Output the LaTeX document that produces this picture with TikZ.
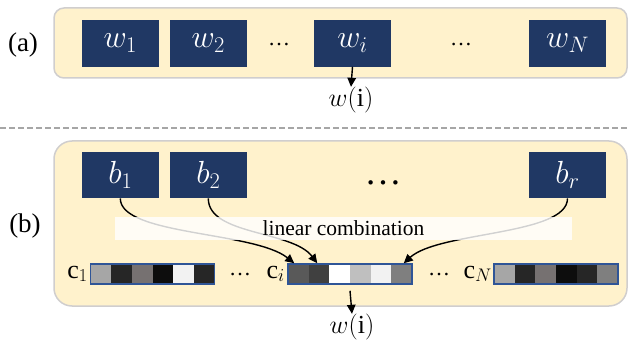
\RequirePackage{fix-cm}
\documentclass[tikz,border=0pt]{standalone}
\usepackage{fontspec}
\setmainfont{Liberation Serif}
\usetikzlibrary{arrows.meta,calc}
\definecolor{panelfill}{HTML}{FFF2CC}
\definecolor{panelline}{HTML}{D0CECE}
\definecolor{navy}{HTML}{203864}
\definecolor{barline}{HTML}{2F5597}
\definecolor{dashgray}{HTML}{A6A6A6}
\definecolor{kA}{HTML}{A6A6A6}
\definecolor{kB}{HTML}{262626}
\definecolor{kC}{HTML}{767171}
\definecolor{kD}{HTML}{0D0D0D}
\definecolor{kE}{HTML}{F2F2F2}
\definecolor{kF}{HTML}{595959}
\definecolor{kG}{HTML}{404040}
\definecolor{kH}{HTML}{FFFFFF}
\definecolor{kI}{HTML}{BFBFBF}
\definecolor{kJ}{HTML}{7F7F7F}
\newcommand{\barcells}[2]{%
  \foreach \col [count=\k from 0] in {#2} {
    \fill[\col] (#1+\k*20.667,264) rectangle ++(20.667,20);
  }%
}
\begin{document}
\begin{tikzpicture}[x=1pt,y=-1pt,
  panel/.style={draw=panelline,fill=panelfill,line width=1.5pt},
  wbox/.style={fill=navy,minimum width=77pt,minimum height=46.5pt,inner sep=0pt,
    text=white,font=\fontsize{32}{36}\selectfont},
  arr/.style={-{Triangle[length=9pt,width=8.5pt]},line width=1.4pt},
  dotlab/.style={anchor=base,inner sep=0pt,font=\fontsize{22}{24}\selectfont},
  lab/.style={inner sep=0pt,font=\fontsize{27}{30}\selectfont},
  outlab/.style={inner sep=0pt,font=\fontsize{26}{30}\selectfont},
  clab/.style={anchor=base east,inner sep=0pt,font=\fontsize{26}{30}\selectfont},
  barbox/.style={draw=barline,line width=1.5pt,minimum width=124pt,minimum height=20pt,inner sep=0pt}]
\useasboundingbox (0,0) rectangle (629,342);

% panel (a)
\draw[panel,rounded corners=10pt] (54,8) rectangle (627,78);
\node[lab] (la) at (23,45) {(a)};
\node[wbox] (w1) at (120.3,43.3) {$w_1$};
\node[wbox] (w2) at (208.3,43.3) {$w_2$};
\node[wbox] (wi) at (352.5,43.3) {$w_i$};
\node[wbox] (wN) at (567.5,43.3) {$w_N$};
\node[dotlab] (da1) at (279,45.5) {…};
\node[dotlab] (da2) at (461,45.5) {…};
\node[outlab] (oa) at (351,100) {$w(\mathrm{i})$};
\draw[arr] (wi.south) -- (oa.north);

% separator
\draw[dashgray,line width=1.5pt,dash pattern=on 6pt off 3pt] (0,128) -- (629,128);

% panel (b)
\draw[panel,rounded corners=18pt] (54,141) rectangle (627,306);
\node[lab] (lb) at (25,226) {(b)};
\node[wbox] (b1) at (120.3,175) {$b_1$};
\node[wbox] (b2) at (208.3,175) {$b_2$};
\node[wbox] (br) at (567.5,175) {$b_r$};
\node[anchor=base,inner sep=0pt,font=\fontsize{37}{40}\selectfont] (db) at (383,184.5) {…};

% bars
\barcells{90.5}{kA,kB,kC,kD,kE,kB}
\barcells{288}{kF,kG,kH,kI,kE,kJ}
\barcells{494}{kA,kB,kC,kD,kB,kJ}
\node[barbox] (c1) at (152.5,274) {};
\node[barbox] (ci) at (350,274) {};
\node[barbox] (cN) at (556,274) {};
\node[clab] (lc1) at (88,278) {$\mathrm{c}_1$};
\node[clab] (lci) at (285,278) {$\mathrm{c}_i$};
\node[clab] (lcN) at (492,278) {$\mathrm{c}_N$};
\node[dotlab] (dc1) at (240,275.5) {…};
\node[dotlab] (dc2) at (439,275.5) {…};

% curves
\draw[arr] (b1.south) .. controls +(0,37) and +(-40,-32) .. ($(ci.north west)+(7,0)$);
\draw[arr] (b2.south) .. controls +(0,37) and +(-25,-33) .. ($(ci.north west)+(30,0)$);
\draw[arr] (br.south) .. controls +(0,37) and +(35,-32) .. ($(ci.north east)+(-9,0)$);

% band with label
\node[fill=white,fill opacity=0.82,text opacity=1,minimum width=457pt,minimum height=23pt,
  inner sep=0pt,font=\fontsize{21.5}{24}\selectfont] (lin) at (343.5,228.5) {linear combination};

% output (b)
\node[outlab] (ob) at (352,327) {$w(\mathrm{i})$};
\draw[arr] ([yshift=-6pt]ci.south) -- (ob.north);
\end{tikzpicture}
\end{document}
